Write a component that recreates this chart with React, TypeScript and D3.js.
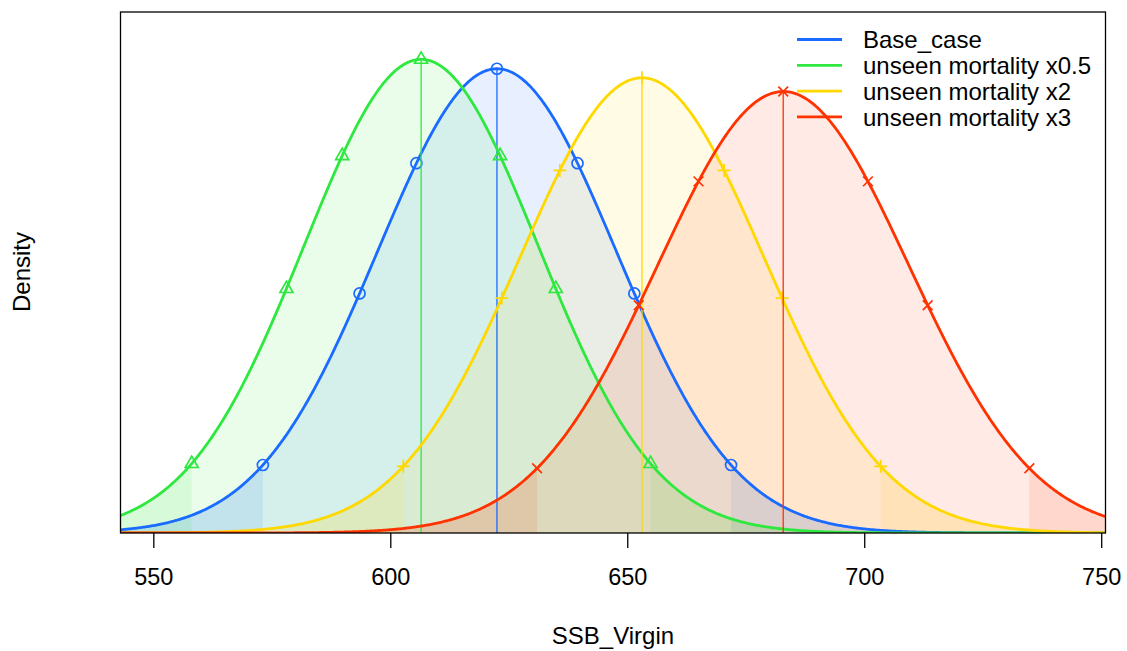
import React, { useEffect, useRef } from "react";
import * as d3 from "d3";

// model names, medians and sds
const models = ["Base_case", "unseen mortality x0.5", "unseen mortality x2", "unseen mortality x3"];
const means = [622.4, 606.4, 653.0, 682.8];
const sds = [25.2, 24.7, 25.7, 26.5];
const colors = ["#1a6bff", "#2ee83f", "#ffd800", "#ff3300"];
const symbols = ["circle", "triangle", "plus", "cross"];
const xTicks = [550, 600, 650, 700, 750];
// quantiles where the symbols sit
const probs = [0.025, 0.125, 0.25, 0.5, 0.75, 0.875, 0.975];

const W = 1127;
const H = 651;

const App = () => {
	const ref = useRef<SVGSVGElement>(null);

	useEffect(() => {
		const svg = d3.select(ref.current);
		const left = 120.5, right = 1105.5, top = 12, bottom = 533;

		const x = d3.scaleLinear().domain([542.97, 750.8]).range([left, right]);
		const dens = (m: number, s: number, v: number) =>
			Math.exp(-((v - m) * (v - m)) / (2 * s * s)) / (s * Math.sqrt(2 * Math.PI));
		const maxD = d3.max(sds, (s) => 1 / (s * Math.sqrt(2 * Math.PI))) as number;
		const y = d3.scaleLinear().domain([0, maxD * 1.1]).range([bottom, top]);

		svg.append("defs").append("clipPath").attr("id", "clip")
			.append("rect").attr("x", left).attr("y", top).attr("width", right - left).attr("height", bottom - top);

		const plot = svg.append("g").attr("clip-path", "url(#clip)");
		const xs = d3.range(540, 755, 0.25);
		const area = d3.area<number>().x((v) => x(v)).y0(y(0));
		const line = d3.line<number>().x((v) => x(v));

		// fills: whole curve light, tails outside 95% interval darker
		means.forEach((m, i) => {
			const s = sds[i];
			const a = area.y1((v) => y(dens(m, s, v)));
			plot.append("path").datum(xs).attr("d", a).attr("fill", colors[i]).attr("fill-opacity", 0.1);
			const lo = m - 1.959964 * s;
			const hi = m + 1.959964 * s;
			plot.append("path").datum(xs.filter((v) => v <= lo).concat([lo]))
				.attr("d", a).attr("fill", colors[i]).attr("fill-opacity", 0.1);
			plot.append("path").datum([hi].concat(xs.filter((v) => v >= hi)))
				.attr("d", a).attr("fill", colors[i]).attr("fill-opacity", 0.1);
		});

		// lines, median segments, symbols
		means.forEach((m, i) => {
			const s = sds[i];
			const c = colors[i];
			plot.append("path").datum(xs)
				.attr("d", line.y((v) => y(dens(m, s, v))))
				.attr("fill", "none").attr("stroke", c).attr("stroke-width", 2.8);
			plot.append("line")
				.attr("x1", x(m)).attr("x2", x(m)).attr("y1", y(0)).attr("y2", y(dens(m, s, m)))
				.attr("stroke", c).attr("stroke-width", 1.3);
			probs.forEach((p) => {
				const v = m + invNorm(p) * s;
				const px = x(v), py = y(dens(m, s, v));
				const g = plot.append("g").attr("transform", `translate(${px},${py})`)
					.attr("fill", "none").attr("stroke", c).attr("stroke-width", 1.7);
				const r = 6.5;
				if (symbols[i] === "circle") g.append("circle").attr("r", 5.5);
				else if (symbols[i] === "triangle")
					g.append("path").attr("d", `M0,${-r * 1.15}L${r},${r * 0.6}L${-r},${r * 0.6}Z`);
				else if (symbols[i] === "plus")
					g.append("path").attr("d", `M${-r},0H${r}M0,${-r}V${r}`);
				else g.append("path").attr("d", `M${-r * 0.75},${-r * 0.75}L${r * 0.75},${r * 0.75}M${-r * 0.75},${r * 0.75}L${r * 0.75},${-r * 0.75}`);
			});
		});

		// box
		svg.append("rect").attr("x", left).attr("y", top).attr("width", right - left).attr("height", bottom - top)
			.attr("fill", "none").attr("stroke", "#000").attr("stroke-width", 1.3);

		// x axis
		const font = "Arial, 'Liberation Sans', sans-serif";
		const ax = svg.append("g").attr("font-family", font).attr("font-size", 23.5);
		xTicks.forEach((t) => {
			ax.append("line").attr("x1", x(t)).attr("x2", x(t)).attr("y1", bottom).attr("y2", bottom + 15)
				.attr("stroke", "#000").attr("stroke-width", 1.3);
			ax.append("text").attr("x", x(t)).attr("y", 585).attr("text-anchor", "middle").text(t);
		});
		ax.append("text").attr("x", (left + right) / 2).attr("y", 644).attr("font-size", 24)
			.attr("text-anchor", "middle").text("SSB_Virgin");
		ax.append("text").attr("transform", "translate(30,272) rotate(-90)").attr("font-size", 24)
			.attr("text-anchor", "middle").text("Density");

		// legend
		const lg = svg.append("g").attr("font-family", font).attr("font-size", 24);
		models.forEach((name, i) => {
			const ly = 39.5 + i * 25.8;
			lg.append("line").attr("x1", 797).attr("x2", 842).attr("y1", ly).attr("y2", ly)
				.attr("stroke", colors[i]).attr("stroke-width", 2.8);
			lg.append("text").attr("x", 863).attr("y", ly + 8.6).text(name);
		});

		return () => {
			svg.selectAll("*").remove();
		};
	}, []);

	return (
		<svg ref={ref} width={W} height={H} style={{ position: "absolute", left: 0, top: 0, background: "#fff" }}></svg>
	);
};

// inverse standard normal cdf (Acklam approximation)
function invNorm(p: number) {
	const a = [-39.69683028665376, 220.9460984245205, -275.9285104469687, 138.357751867269, -30.66479806614716, 2.506628277459239];
	const b = [-54.47609879822406, 161.5858368580409, -155.6989798598866, 66.80131188771972, -13.28068155288572];
	const c = [-0.007784894002430293, -0.3223964580411365, -2.400758277161838, -2.549732539343734, 4.374664141464968, 2.938163982698783];
	const dd = [0.007784695709041462, 0.3224671290700398, 2.445134137142996, 3.754408661907416];
	const pl = 0.02425;
	if (p < pl) {
		const q = Math.sqrt(-2 * Math.log(p));
		return (((((c[0] * q + c[1]) * q + c[2]) * q + c[3]) * q + c[4]) * q + c[5]) / ((((dd[0] * q + dd[1]) * q + dd[2]) * q + dd[3]) * q + 1);
	}
	if (p > 1 - pl) return -invNorm(1 - p);
	const q = p - 0.5, r = q * q;
	return (((((a[0] * r + a[1]) * r + a[2]) * r + a[3]) * r + a[4]) * r + a[5]) * q / (((((b[0] * r + b[1]) * r + b[2]) * r + b[3]) * r + b[4]) * r + 1);
}

export default App;
